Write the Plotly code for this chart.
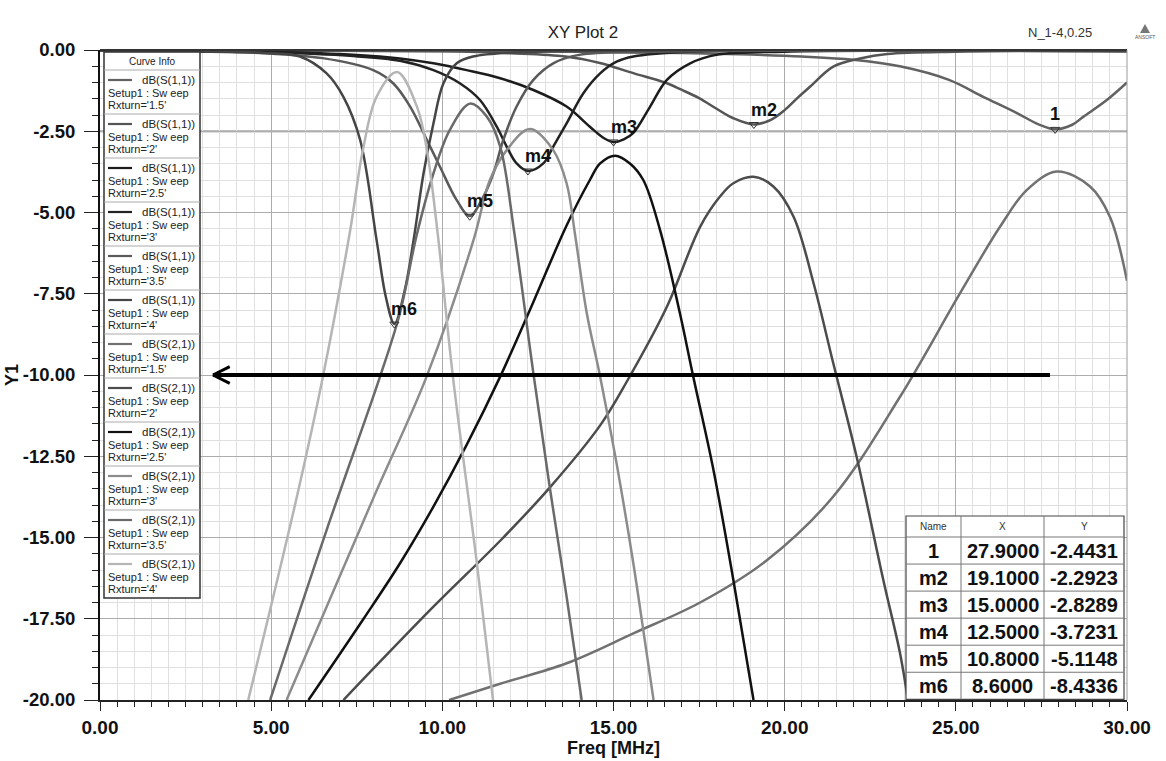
import plotly.graph_objects as go

# ---------------- data ----------------
RXTURN = ["1.5", "2", "2.5", "3", "3.5", "4"]

# dB(S(1,1)) per Rxturn
s11_f_15 = [0, 5, 10, 14, 17, 19, 20.5, 22, 23.4, 24.8, 25.8, 26.8, 27.4, 27.9, 28.4, 28.73, 29.41, 30]
s11_db_15 = [-0.02, -0.02, -0.03, -0.05, -0.09, -0.14, -0.2, -0.3, -0.51, -0.92, -1.44, -1.95, -2.28, -2.44, -2.3, -2.05, -1.54, -1.0]

s11_f_2 = [0, 6, 10, 12, 13.6, 14.6, 15.6, 16.5, 17.0, 17.5, 18.0, 18.5, 19.1, 19.6, 20.0, 20.4, 20.74, 21.42, 22.2, 23, 25, 30]
s11_db_2 = [-0.02, -0.02, -0.04, -0.1, -0.2, -0.4, -0.72, -1.0, -1.23, -1.48, -1.8, -2.1, -2.29, -2.15, -1.85, -1.45, -1.13, -0.51, -0.26, -0.12, -0.05, -0.03]

s11_f_25 = [0, 5, 7.5, 8.76, 9.74, 10.71, 11.69, 12.66, 13.63, 14.31, 14.7, 15.0, 15.3, 15.58, 16.07, 16.56, 17.24, 18.0, 20, 30]
s11_db_25 = [-0.02, -0.06, -0.15, -0.26, -0.41, -0.62, -0.87, -1.23, -1.74, -2.36, -2.7, -2.83, -2.75, -2.55, -1.74, -0.92, -0.41, -0.15, -0.05, -0.03]

s11_f_3 = [0, 5, 7.3, 8.76, 9.74, 10.52, 11.1, 11.59, 11.88, 12.17, 12.5, 12.95, 13.24, 13.63, 14.12, 14.61, 15.09, 15.58, 17, 30]
s11_db_3 = [-0.02, -0.08, -0.18, -0.33, -0.62, -1.03, -1.54, -2.36, -2.97, -3.49, -3.72, -3.49, -2.97, -2.26, -1.33, -0.72, -0.36, -0.2, -0.06, -0.03]

s11_f_35 = [0, 4, 6.5, 7.98, 8.57, 9.06, 9.55, 9.93, 10.42, 10.8, 11.2, 11.49, 11.78, 12.17, 12.66, 13.24, 14, 16, 30]
s11_db_35 = [-0.02, -0.06, -0.25, -0.62, -1.03, -1.74, -2.77, -3.59, -4.62, -5.11, -4.51, -3.8, -2.77, -1.74, -0.92, -0.41, -0.15, -0.06, -0.03]

s11_f_4 = [0, 3.5, 5.0, 5.84, 6.62, 7.11, 7.6, 8.08, 8.35, 8.6, 8.9, 9.16, 9.45, 9.74, 10.03, 10.42, 10.9, 12, 30]
s11_db_4 = [-0.02, -0.05, -0.1, -0.2, -0.72, -1.44, -2.77, -5.85, -7.6, -8.43, -7.4, -5.85, -3.8, -2.26, -1.03, -0.41, -0.2, -0.08, -0.03]

# dB(S(2,1)) per Rxturn
s21_f_15 = [10.2, 11.69, 13.63, 15.58, 17.53, 19.48, 21.42, 23.37, 25.12, 26.29, 27.07, 27.95, 28.92, 29.5, 30.0]
s21_db_15 = [-20, -19.5, -18.87, -17.95, -17.0, -15.7, -13.74, -10.67, -7.49, -5.44, -4.31, -3.74, -4.2, -5.13, -7.1]

s21_f_2 = [7.11, 9.74, 11.69, 13.15, 14.61, 15.39, 16.56, 17.53, 18.11, 18.5, 19.09, 19.67, 20.26, 20.85, 21.42, 22.1, 22.88, 23.37, 23.6]
s21_db_2 = [-20, -17.13, -15.1, -13.45, -11.55, -10.2, -7.9, -5.44, -4.51, -4.1, -3.9, -4.2, -5.13, -7.2, -9.64, -12.51, -16.3, -18.56, -20]

s21_f_25 = [6.09, 7.7, 8.76, 9.74, 10.71, 11.69, 12.66, 13.63, 14.31, 14.61, 15.05, 15.48, 15.87, 16.36, 16.94, 17.33, 17.92, 18.5, 19.09]
s21_db_25 = [-20, -17.5, -15.8, -14.05, -12.15, -10.05, -7.75, -5.4, -4.0, -3.49, -3.25, -3.49, -4.0, -5.54, -8.1, -10.05, -12.92, -16.3, -20]

s21_f_3 = [5.45, 8.0, 9.54, 10.91, 11.39, 11.88, 12.56, 13.24, 13.63, 13.88, 14.22, 14.61, 15.09, 15.58, 15.87, 16.17]
s21_db_3 = [-20, -13.75, -10.05, -5.85, -4.0, -3.08, -2.43, -3.08, -4.1, -5.7, -8.1, -10.05, -12.72, -15.8, -17.85, -20]

s21_f_35 = [4.97, 6.62, 8.18, 8.76, 9.25, 9.74, 10.22, 10.81, 11.3, 11.69, 12.1, 12.66, 13.15, 13.63, 14.07]
s21_db_35 = [-20, -14.77, -10.05, -8.1, -5.7, -3.8, -2.46, -1.65, -2.05, -2.97, -5.6, -9.95, -13.54, -16.82, -20]

s21_f_4 = [4.33, 5.75, 6.51, 7.3, 7.68, 8.08, 8.68, 9.26, 9.55, 9.87, 10.31, 11.01, 11.48]
s21_db_4 = [-20, -13.75, -10.06, -5.6, -3.08, -1.44, -0.68, -1.75, -3.08, -5.7, -10.06, -15.8, -20]

S11_F = [s11_f_15, s11_f_2, s11_f_25, s11_f_3, s11_f_35, s11_f_4]
S11_DB = [s11_db_15, s11_db_2, s11_db_25, s11_db_3, s11_db_35, s11_db_4]
S21_F = [s21_f_15, s21_f_2, s21_f_25, s21_f_3, s21_f_35, s21_f_4]
S21_DB = [s21_db_15, s21_db_2, s21_db_25, s21_db_3, s21_db_35, s21_db_4]

S11_COLORS = ["#626262", "#555555", "#1c1c1c", "#222222", "#5a5a5a", "#454545"]
S21_COLORS = ["#717171", "#4c4c4c", "#111111", "#8c8c8c", "#6a6a6a", "#b5b5b5"]

MARKER_NAMES = ["1", "m2", "m3", "m4", "m5", "m6"]
MARKER_X = [27.9, 19.1, 15.0, 12.5, 10.8, 8.6]
MARKER_Y = [-2.4431, -2.2923, -2.8289, -3.7231, -5.1148, -8.4336]

X_TICKS = [0, 5, 10, 15, 20, 25, 30]
X_TICK_LABELS = ["0.00", "5.00", "10.00", "15.00", "20.00", "25.00", "30.00"]
Y_TICKS = [0, -2.5, -5, -7.5, -10, -12.5, -15, -17.5, -20]
Y_TICK_LABELS = ["0.00", "-2.50", "-5.00", "-7.50", "-10.00", "-12.50", "-15.00", "-17.50", "-20.00"]

ARROW_Y = -10.0
ARROW_FROM = 27.75
ARROW_TO = 3.3

# ---------------- layout helpers ----------------
W, H = 1166, 761
ML, MR, MT, MB = 100, 39, 50, 61
FONT = "Liberation Sans, Arial, sans-serif"


def px(x):
    return (x - ML) / (W - ML - MR)


def py(y):
    return 1 - (y - MT) / (H - MT - MB)


def note(x, y, text, size, xanchor="center", weight="normal", color="#222"):
    return dict(x=px(x), y=py(y), xref="paper", yref="paper", text=text, showarrow=False,
                xanchor=xanchor, yanchor="middle",
                font=dict(family=FONT, size=size, color=color, weight=weight))


fig = go.Figure()

for f, db, c in zip(S11_F, S11_DB, S11_COLORS):
    fig.add_trace(go.Scatter(x=f, y=db, mode="lines", line=dict(color=c, width=2.5, shape="spline", smoothing=1.0),
                             showlegend=False, hoverinfo="skip"))
for f, db, c in zip(S21_F, S21_DB, S21_COLORS):
    fig.add_trace(go.Scatter(x=f, y=db, mode="lines", line=dict(color=c, width=2.5, shape="spline", smoothing=1.0),
                             showlegend=False, hoverinfo="skip"))

fig.add_trace(go.Scatter(x=MARKER_X, y=MARKER_Y, mode="markers",
                         marker=dict(symbol="triangle-down-open", size=8, color="#333", line=dict(width=1)),
                         showlegend=False, hoverinfo="skip"))

shapes = []
annotations = []

# special line at -2.5 and borders
shapes.append(dict(type="line", xref="x", yref="y", x0=0, x1=30, y0=-2.5, y1=-2.5,
                   line=dict(color="#bdbdbd", width=2.5), layer="below"))
shapes.append(dict(type="line", xref="paper", yref="paper", x0=0, x1=1, y0=1, y1=1,
                   line=dict(color="#333", width=2)))
shapes.append(dict(type="line", xref="paper", yref="paper", x0=1, x1=1, y0=0, y1=1,
                   line=dict(color="#999", width=1)))

# arrow
shapes.append(dict(type="line", xref="x", yref="y", x0=ARROW_FROM, x1=ARROW_TO, y0=ARROW_Y, y1=ARROW_Y,
                   line=dict(color="black", width=4)))
for s in (1, -1):
    shapes.append(dict(type="line", xref="x", yref="y", x0=ARROW_TO, x1=ARROW_TO + 0.49,
                       y0=ARROW_Y, y1=ARROW_Y + s * 0.26, line=dict(color="black", width=3)))

# marker labels
for n, x, y in zip(MARKER_NAMES, MARKER_X, MARKER_Y):
    annotations.append(dict(x=x, y=y, xref="x", yref="y", text=n, showarrow=False,
                            xanchor="center" if n == "1" else "left", yanchor="bottom",
                            xshift=0 if n == "1" else -5, yshift=3,
                            font=dict(family=FONT, size=18, color="#111", weight="bold")))

# curve info legend box
LX0, LX1, LTOP, LHEAD, LROW = 104, 200, 52, 70, 44
shapes.append(dict(type="rect", xref="paper", yref="paper", x0=px(LX0), x1=px(LX1),
                   y0=py(LHEAD + 12 * LROW), y1=py(LTOP), fillcolor="white",
                   line=dict(color="#333", width=1.5), layer="above"))
annotations.append(note((LX0 + LX1) / 2, (LTOP + LHEAD) / 2, "Curve Info", 10))
entries = [("dB(S(1,1))", r, c) for r, c in zip(RXTURN, S11_COLORS)] + \
          [("dB(S(2,1))", r, c) for r, c in zip(RXTURN, S21_COLORS)]
for i, (name, r, c) in enumerate(entries):
    y0 = LHEAD + i * LROW
    shapes.append(dict(type="line", xref="paper", yref="paper", x0=px(LX0), x1=px(LX1), y0=py(y0), y1=py(y0),
                       line=dict(color="#aaa", width=1), layer="above"))
    shapes.append(dict(type="line", xref="paper", yref="paper", x0=px(108), x1=px(132),
                       y0=py(y0 + 10), y1=py(y0 + 10), line=dict(color=c, width=2.2), layer="above"))
    annotations.append(note(197, y0 + 10, name, 11.5, xanchor="right"))
    annotations.append(note(106, y0 + 23, "Setup1 : Sw eep", 11, xanchor="left"))
    annotations.append(note(106, y0 + 35, "Rxturn='" + r + "'", 11, xanchor="left"))

# marker table
TX = [906, 961, 1044, 1124]
TY = [516, 537] + [537 + 27.05 * (k + 1) for k in range(6)]
shapes.append(dict(type="rect", xref="paper", yref="paper", x0=px(TX[0]), x1=px(TX[-1]), y0=py(TY[-1]),
                   y1=py(TY[0]), fillcolor="white", line=dict(color="#444", width=1.2), layer="above"))
for xx in TX[1:-1]:
    shapes.append(dict(type="line", xref="paper", yref="paper", x0=px(xx), x1=px(xx), y0=py(TY[-1]), y1=py(TY[0]),
                       line=dict(color="#777", width=1), layer="above"))
for yy in TY[1:-1]:
    shapes.append(dict(type="line", xref="paper", yref="paper", x0=px(TX[0]), x1=px(TX[-1]), y0=py(yy), y1=py(yy),
                       line=dict(color="#777", width=1), layer="above"))
for k, h in enumerate(["Name", "X", "Y"]):
    annotations.append(note((TX[k] + TX[k + 1]) / 2, (TY[0] + TY[1]) / 2, h, 10, color="#333"))
for j, (n, x, y) in enumerate(zip(MARKER_NAMES, MARKER_X, MARKER_Y)):
    yc = (TY[j + 1] + TY[j + 2]) / 2
    for k, t in enumerate([n, f"{x:.4f}", f"{y:.4f}"]):
        annotations.append(note((TX[k] + TX[k + 1]) / 2, yc, t, 20, weight="bold", color="#111"))

# header texts and logo
annotations.append(note(1060, 32, "N_1-4,0.25", 13, color="#333"))
shapes.append(dict(type="path", xref="paper", yref="paper",
                   path=f"M {px(1140)} {py(33)} L {px(1150)} {py(33)} L {px(1145)} {py(24)} Z",
                   fillcolor="#777", line=dict(width=0)))
annotations.append(note(1145, 37, "ANSOFT", 5, color="#555"))

xfont = dict(family=FONT, size=19, color="#111", weight="bold")
yfont = dict(family=FONT, size=18.5, color="#111", weight="bold")
fig.update_layout(
    width=W, height=H,
    margin=dict(l=ML, r=MR, t=MT, b=MB, autoexpand=False),
    paper_bgcolor="white", plot_bgcolor="white",
    title=dict(text="XY Plot 2", x=0.5, xref="container", xanchor="center", y=1 - 32 / H, yanchor="middle",
               font=dict(family=FONT, size=17, color="#222")),
    font=dict(family=FONT, color="#111"),
    shapes=shapes, annotations=annotations,
    xaxis=dict(range=[0, 30], tickvals=X_TICKS, ticktext=X_TICK_LABELS, ticks="outside", ticklen=9,
               tickcolor="#222", showline=True, linecolor="#222", linewidth=1.5, showgrid=True,
               gridcolor="#acacac", zeroline=False, tickfont=xfont, automargin=False,
               title=dict(text="Freq [MHz]", font=dict(family=FONT, size=18, color="#111", weight="bold"),
                          standoff=2),
               minor=dict(dtick=0.5, ticks="outside", ticklen=5, tickcolor="#222", showgrid=True,
                          gridcolor="#e0e0e0")),
    yaxis=dict(range=[-20, 0], tickvals=Y_TICKS, ticktext=Y_TICK_LABELS, ticks="outside", ticklen=14,
               tickcolor="#222", showline=True, linecolor="#111", linewidth=2, showgrid=True,
               gridcolor="#acacac", zeroline=False, ticklabelstandoff=5, tickfont=yfont, automargin=False,
               title=dict(text="Y1", font=dict(family=FONT, size=18, color="#111", weight="bold"), standoff=0),
               minor=dict(dtick=0.5, ticks="outside", ticklen=6, tickcolor="#222", showgrid=True,
                          gridcolor="#e0e0e0")),
)

fig.write_html("out.html", config={"displayModeBar": False},
               post_script="document.body.style.margin='0';")
